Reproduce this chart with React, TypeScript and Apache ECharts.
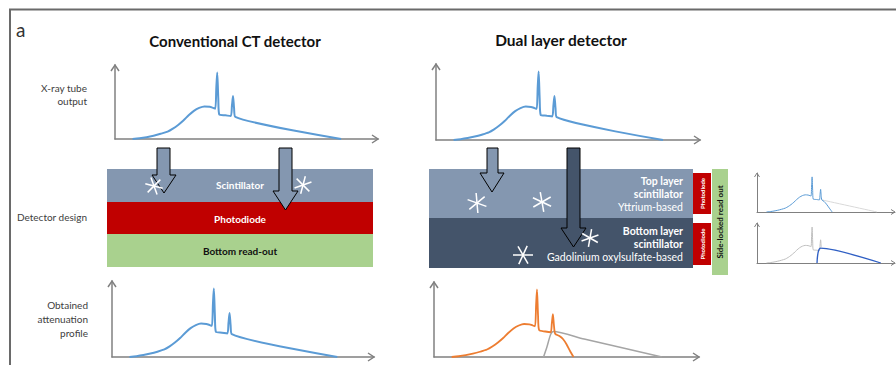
import React, { useEffect, useRef } from "react";
import * as echarts from "echarts";

const FONT = "Lato, 'Liberation Sans', sans-serif";

// ---- data (energy keV, relative intensity) ----
const tubeSpectrum: number[][] = [
  [10, 0], [14, 1], [18, 2.5], [22, 4.5], [26, 7], [30, 10], [33, 14], [36, 19], [39, 25],
  [42, 32], [45, 38], [48, 42], [51, 44], [54, 43.5], [56, 42], [57.2, 41], [57.8, 70],
  [58.3, 90], [58.9, 55], [59.5, 33], [63, 32], [66, 31], [66.7, 45], [67.3, 58], [67.9, 42],
  [68.6, 30], [129, 0],
];
const lowEnergyOrange: number[][] = [
  [10, 0], [14, 1], [18, 2.5], [22, 4.5], [26, 7], [30, 10], [33, 14], [36, 19], [39, 25],
  [42, 32], [45, 38], [48, 42], [51, 44], [54, 43.5], [56, 42], [57.2, 41], [57.8, 70],
  [58.3, 90], [58.9, 55], [59.5, 36], [63, 34], [66, 33], [66.7, 45], [67.3, 57], [67.9, 42],
  [68.6, 31], [71, 28], [73, 24], [75, 17], [77, 8], [79, 0],
];
const highEnergyGray: number[][] = [[62, 0], [64, 14], [66, 30], [67.5, 34], [85, 24], [129, 0]];
const topLayerBlue: number[][] = [
  [10, 0], [14, 1], [18, 2.5], [22, 4.5], [26, 7], [30, 10], [33, 14], [36, 19], [39, 25],
  [42, 32], [45, 38], [48, 42], [51, 44], [54, 43.5], [56, 42], [57.2, 41], [57.8, 70],
  [58.3, 90], [58.9, 55], [59.5, 33], [63, 32], [66, 31], [66.7, 45], [67.3, 58], [67.9, 42],
  [68.6, 31], [71, 27], [73.5, 20], [76.5, 10], [79.5, 0],
];
const topLayerGrayTail: number[][] = [[68.6, 31], [127, 0]];
const bottomLayerGray: number[][] = [
  [10, 0], [14, 1], [18, 2.5], [22, 4.5], [26, 7], [30, 10], [33, 14], [36, 19], [39, 25],
  [42, 32], [45, 38], [48, 42], [51, 44], [54, 43.5], [56, 42], [57.2, 41], [57.8, 70],
  [58.3, 90], [58.9, 55], [59.5, 33], [63, 32], [66, 31], [66.7, 45], [67.3, 58], [67.9, 40],
];
const bottomLayerBlue: number[][] = [[63.5, 0], [67.3, 37], [131, 0]];

const titles = ["Conventional CT detector", "Dual layer detector"];
const rowLabelTube = ["X-ray tube", "output"];
const rowLabelDesign = ["Detector design"];
const rowLabelProfile = ["Obtained", "attenuation", "profile"];
const convLayers = ["Scintillator", "Photodiode", "Bottom read-out"];
const dualTopText = ["Top layer", "scintillator", "Yttrium-based"];
const dualBottomText = ["Bottom layer", "scintillator", "Gadolinium oxylsulfate-based"];

// ---- layout ----
const grids = [
  { left: 115, top: 65, width: 263, height: 74, xMax: 150 },
  { left: 436, top: 64, width: 264, height: 76, xMax: 150 },
  { left: 112, top: 281, width: 262, height: 76, xMax: 150 },
  { left: 434, top: 282, width: 265, height: 75, xMax: 150 },
  { left: 757, top: 173, width: 138, height: 39, xMax: 146 },
  { left: 757, top: 223, width: 138, height: 40, xMax: 146 },
];

const AXIS = "#808080";
const BLUE = "#5B9BD5";
const ORANGE = "#ED7D31";
const SLATE = "#8497B0";
const DARK = "#44546A";
const RED = "#C00000";
const GREEN = "#A9D18E";

function chevrons(g: any, small: boolean) {
  const a = small ? 2.5 : 4;
  const b = small ? 4 : 6;
  const x0 = g.left;
  const y0 = g.top + g.height;
  const xr = g.left + g.width;
  const st = { stroke: AXIS, lineWidth: small ? 1 : 1.5, fill: "none" };
  return [
    { type: "polyline", shape: { points: [[x0 - a, g.top + b], [x0, g.top], [x0 + a, g.top + b]] }, style: st },
    { type: "polyline", shape: { points: [[xr - b, y0 - a], [xr, y0], [xr - b, y0 + a]] }, style: st },
  ];
}

function arrow(x1: number, x2: number, top: number, yh: number, h1: number, h2: number, tx: number, ty: number, fill: string) {
  return {
    type: "polygon",
    shape: { points: [[x1, top], [x2, top], [x2, yh], [h2, yh], [tx, ty], [h1, yh], [x1, yh]] },
    style: { fill, stroke: "#000", lineWidth: 1 },
    z: 5,
  };
}

function star(cx: number, cy: number, r: number, angles: number[]) {
  return angles.map((deg) => {
    const t = (deg * Math.PI) / 180;
    return {
      type: "line",
      shape: { x1: cx - r * Math.cos(t), y1: cy - r * Math.sin(t), x2: cx + r * Math.cos(t), y2: cy + r * Math.sin(t) },
      style: { stroke: "#fff", lineWidth: 1.5 },
      z: 6,
    };
  });
}

function txt(text: string, x: number, y: number, o: any = {}) {
  return {
    type: "text",
    x,
    y,
    rotation: o.rotation || 0,
    z: 7,
    style: {
      text,
      fill: o.fill || "#404040",
      fontFamily: FONT,
      fontSize: o.size || 10,
      fontWeight: o.bold ? "bold" : "normal",
      align: o.align || "center",
      verticalAlign: "middle",
    },
  };
}

export default function App() {
  const ref = useRef<HTMLDivElement>(null);
  useEffect(() => {
    document.body.style.margin = "0";
    const chart = echarts.init(ref.current!, null, { renderer: "svg" });

    const graphic: any[] = [];
    // frame
    graphic.push({ type: "line", shape: { x1: 9, y1: 9.5, x2: 896, y2: 9.5 }, style: { stroke: "#6a6a6a", lineWidth: 2 } });
    graphic.push({ type: "line", shape: { x1: 10, y1: 9, x2: 10, y2: 365 }, style: { stroke: "#6a6a6a", lineWidth: 2 } });
    graphic.push(txt("a", 16, 29, { size: 19, align: "left", fill: "#333" }));
    graphic.push(txt(titles[0], 235, 41, { size: 15, bold: true, fill: "#111" }));
    graphic.push(txt(titles[1], 561, 40, { size: 15.5, bold: true, fill: "#111" }));
    // row labels
    rowLabelTube.forEach((s, i) => graphic.push(txt(s, 87, 88 + i * 12.5, { align: "right" })));
    rowLabelDesign.forEach((s) => graphic.push(txt(s, 87, 217, { align: "right" })));
    rowLabelProfile.forEach((s, i) => graphic.push(txt(s, 88, 305 + i * 14, { align: "right" })));

    // conventional detector
    graphic.push({ type: "rect", shape: { x: 107, y: 169, width: 266, height: 33 }, style: { fill: SLATE } });
    graphic.push({ type: "rect", shape: { x: 107, y: 202, width: 266, height: 32 }, style: { fill: RED } });
    graphic.push({ type: "rect", shape: { x: 107, y: 234, width: 266, height: 33 }, style: { fill: GREEN } });
    graphic.push(txt(convLayers[0], 240, 185, { bold: true, fill: "#fff" }));
    graphic.push(txt(convLayers[1], 240, 219, { bold: true, fill: "#fff" }));
    graphic.push(txt(convLayers[2], 240, 251, { bold: true, fill: "#111" }));
    graphic.push(arrow(157, 170, 148, 175, 152, 176, 164, 193, SLATE));
    graphic.push(arrow(279, 292, 148, 191, 273, 298, 285.5, 210, SLATE));
    graphic.push(...star(154, 186, 9, [15, 70, 135]));
    graphic.push(...star(303, 185, 9, [160, 45, 105]));

    // dual layer detector
    graphic.push({ type: "rect", shape: { x: 429, y: 169, width: 264, height: 49 }, style: { fill: SLATE } });
    graphic.push({ type: "rect", shape: { x: 429, y: 218, width: 264, height: 50 }, style: { fill: DARK } });
    dualTopText.forEach((s, i) => graphic.push(txt(s, 683, 181 + i * 13, { align: "right", bold: i < 2, fill: "#fff", size: 10.5 })));
    dualBottomText.forEach((s, i) => graphic.push(txt(s, 683, 231 + i * 13, { align: "right", bold: i < 2, fill: "#fff", size: 10.5 })));
    graphic.push({ type: "rect", shape: { x: 693, y: 173, width: 18, height: 41 }, style: { fill: RED } });
    graphic.push({ type: "rect", shape: { x: 693, y: 223, width: 18, height: 42 }, style: { fill: RED } });
    graphic.push({ type: "rect", shape: { x: 712, y: 169, width: 16, height: 106 }, style: { fill: GREEN } });
    graphic.push(txt("Photodiode", 702, 193.5, { rotation: Math.PI / 2, bold: true, fill: "#fff", size: 6 }));
    graphic.push(txt("Photodiode", 702, 244, { rotation: Math.PI / 2, bold: true, fill: "#fff", size: 6 }));
    graphic.push(txt("Side-locked read out", 720, 222, { rotation: Math.PI / 2, bold: true, fill: "#111", size: 8 }));
    graphic.push(arrow(487, 498, 148, 173, 480, 504, 492, 192, SLATE));
    graphic.push(arrow(567, 580, 148, 228, 561, 586, 573.5, 247, DARK));
    graphic.push(...star(477, 203, 10, [20, 85, 140]));
    graphic.push(...star(542, 202, 10, [25, 80, 150]));
    graphic.push(...star(523, 255, 10, [0, 60, 115]));
    graphic.push(...star(590, 238, 9, [30, 100, 160]));

    grids.forEach((g, i) => graphic.push(...chevrons(g, i >= 4)));

    const line = (gi: number, data: number[][], color: string, width: number, z = 2) => ({
      type: "line",
      xAxisIndex: gi,
      yAxisIndex: gi,
      data,
      showSymbol: false,
      symbol: "none",
      smooth: 0.25,
      z,
      lineStyle: { color, width },
    });

    chart.setOption({
      animation: false,
      grid: grids.map((g) => ({ left: g.left, top: g.top, width: g.width, height: g.height })),
      xAxis: grids.map((g, i) => ({
        type: "value",
        gridIndex: i,
        min: 0,
        max: g.xMax,
        axisLine: { show: true, lineStyle: { color: AXIS, width: i >= 4 ? 1 : 1.5 } },
        axisTick: { show: false },
        axisLabel: { show: false },
        splitLine: { show: false },
      })),
      yAxis: grids.map((g, i) => ({
        type: "value",
        gridIndex: i,
        min: 0,
        max: 100,
        axisLine: { show: true, lineStyle: { color: AXIS, width: i >= 4 ? 1 : 1.5 } },
        axisTick: { show: false },
        axisLabel: { show: false },
        splitLine: { show: false },
      })),
      series: [
        line(0, tubeSpectrum, BLUE, 2),
        line(1, tubeSpectrum, BLUE, 2),
        line(2, tubeSpectrum, BLUE, 2),
        line(3, highEnergyGray, "#A5A5A5", 1.5),
        line(3, lowEnergyOrange, ORANGE, 1.8, 3),
        line(4, topLayerGrayTail, "#D9D9D9", 1),
        line(4, topLayerBlue, BLUE, 1),
        line(5, bottomLayerGray, "#BFBFBF", 1),
        line(5, bottomLayerBlue, "#2F5FC4", 1.3, 3),
      ],
      graphic: { elements: graphic },
    });
    return () => chart.dispose();
  }, []);
  return <div ref={ref} style={{ position: "fixed", left: 0, top: 0, width: 896, height: 365, background: "#fff" }} />;
}
